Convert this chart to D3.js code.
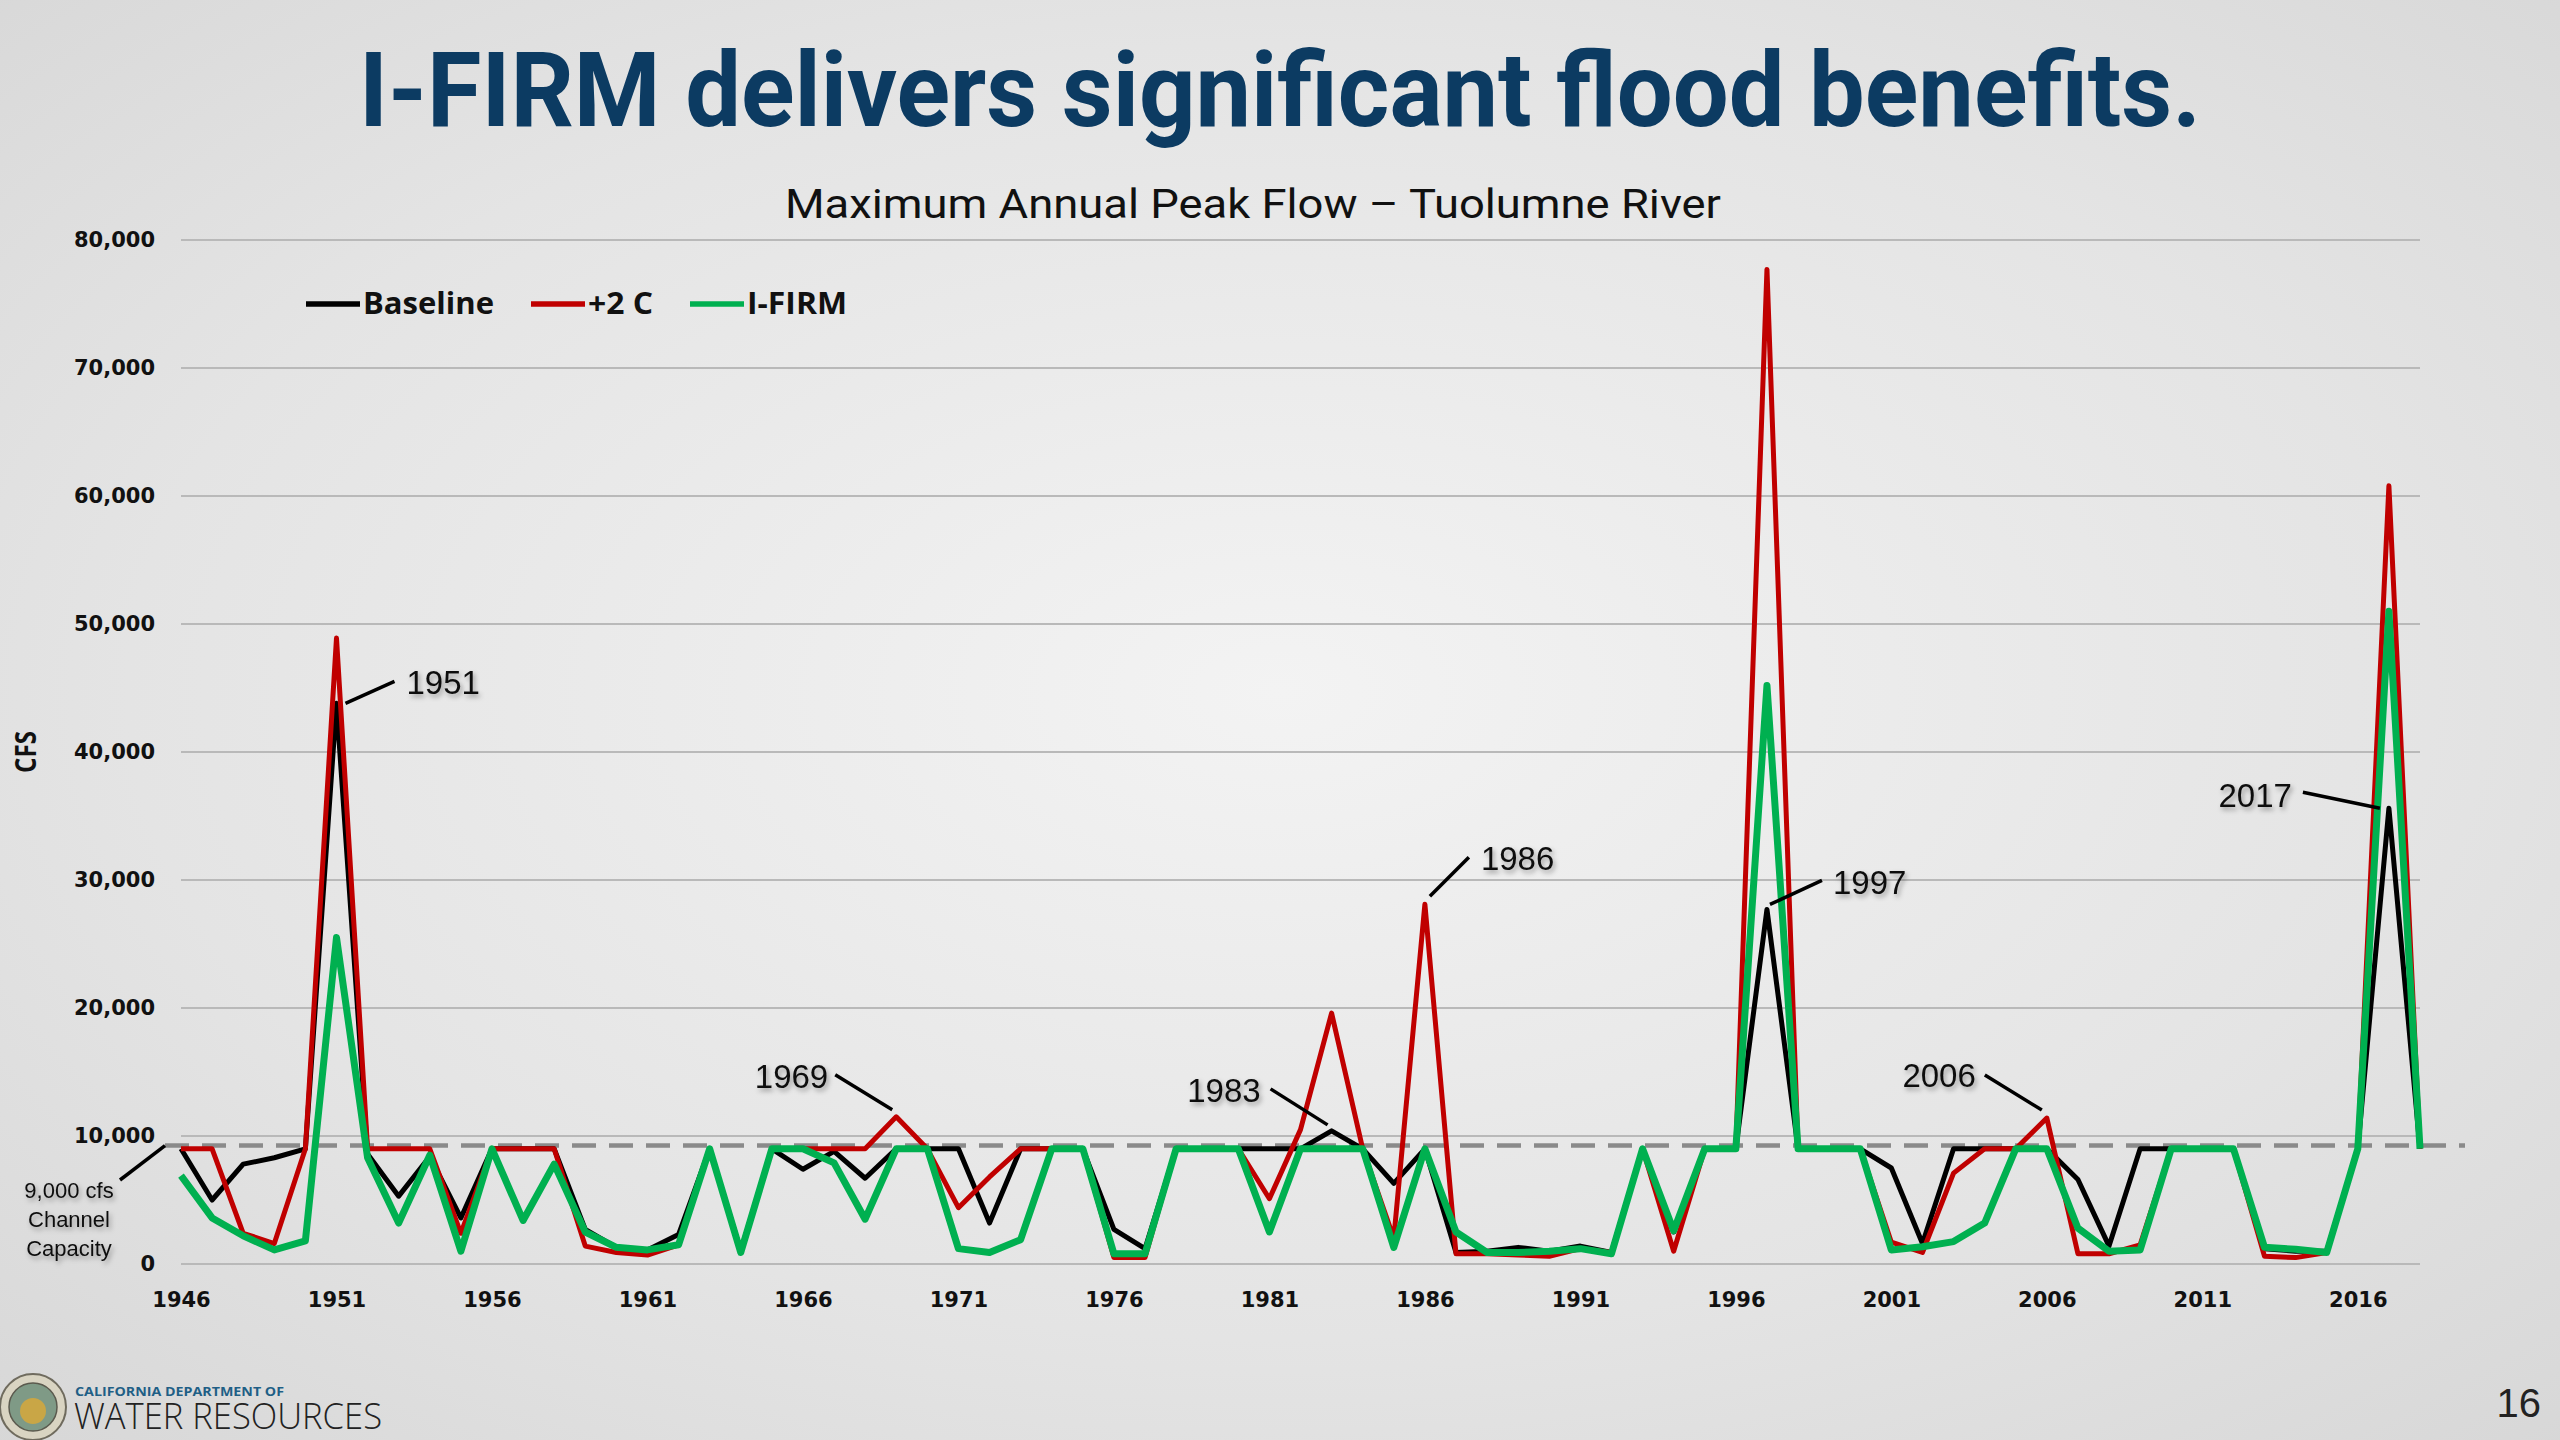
<!DOCTYPE html>
<html>
<head>
<meta charset="utf-8">
<script src="https://cdn.jsdelivr.net/npm/d3@7"></script>
<style>
  html, body { margin: 0; padding: 0; background: #e2e2e2; }
  svg { display: block; }
</style>
</head>
<body>
<svg id="chart" width="2560" height="1440"></svg>
<script>
// years on the x axis
var years = d3.range(1946, 2019);

// peak flow in cfs, one value per year 1946-2018
var baseline = [
  9000, 5000, 7800, 8300, 9000, 43800, 8600, 5300, 8400, 3600,
  9000, 9000, 9000, 2700, 1300, 1100, 2300, 9000, 1000, 9000,
  7400, 8800, 6700, 9000, 9000, 9000, 3200, 9000, 9000, 9000,
  2700, 1200, 9000, 9000, 9000, 9000, 9000, 10400, 9000, 6300,
  9000, 900, 1000, 1300, 1000, 1400, 900, 9000, 2500, 9000,
  9000, 27700, 9000, 9000, 9000, 7500, 1600, 9000, 9000, 9000,
  9000, 6600, 1400, 9000, 9000, 9000, 9000, 1200, 1000, 1000,
  9000, 35600, 9000
];
var plus2C = [
  9000, 9000, 2400, 1600, 9000, 48900, 9000, 9000, 9000, 2400,
  9000, 9000, 9000, 1400, 900, 700, 1500, 9000, 1000, 9000,
  9000, 9000, 9000, 11500, 9000, 4400, 6800, 9000, 9000, 9000,
  500, 500, 9000, 9000, 9000, 5100, 10500, 19600, 9000, 2000,
  28100, 800, 800, 700, 600, 1200, 900, 9000, 1000, 9000,
  9000, 77700, 9000, 9000, 9000, 1700, 900, 7100, 9000, 9000,
  11400, 800, 800, 1500, 9000, 9000, 9000, 600, 500, 900,
  9000, 60800, 9000
];
var ifirm = [
  6900, 3600, 2200, 1100, 1800, 25500, 8300, 3200, 8500, 1000,
  9000, 3400, 7800, 2500, 1300, 1100, 1500, 9000, 900, 9000,
  9000, 7900, 3500, 9000, 9000, 1200, 900, 1900, 9000, 9000,
  800, 800, 9000, 9000, 9000, 2500, 9000, 9000, 9000, 1300,
  9000, 2500, 900, 900, 1000, 1200, 800, 9000, 2600, 9000,
  9000, 45200, 9000, 9000, 9000, 1100, 1350, 1750, 3200, 9000,
  9000, 2800, 1000, 1100, 9000, 9000, 9000, 1300, 1150, 900,
  9000, 51000, 9000
];

var seriesNames = ["Baseline", "+2 C", "I-FIRM"];
var seriesColors = ["#000000", "#c00000", "#00b050"];
var yTicks = [0, 10000, 20000, 30000, 40000, 50000, 60000, 70000, 80000];
var xTicks = [1946, 1951, 1956, 1961, 1966, 1971, 1976, 1981, 1986, 1991, 1996, 2001, 2006, 2011, 2016];
var channelCapacity = 9250; // dashed reference line as drawn
var callouts = ["1951", "1969", "1983", "1986", "1997", "2006", "2017"];
var calloutSeries = [0, 1, 0, 1, 0, 1, 0];

var svg = d3.select("#chart");
var defs = svg.append("defs");

var bg = defs.append("radialGradient").attr("id", "bg")
  .attr("cx", "50%").attr("cy", "48%").attr("r", "75%");
bg.append("stop").attr("offset", "0%").attr("stop-color", "#f3f3f3");
bg.append("stop").attr("offset", "60%").attr("stop-color", "#e4e4e4");
bg.append("stop").attr("offset", "100%").attr("stop-color", "#d6d6d6");

var sh = defs.append("filter").attr("id", "shadow")
  .attr("x", "-20%").attr("y", "-30%").attr("width", "150%").attr("height", "170%");
sh.append("feDropShadow").attr("dx", 2).attr("dy", 3).attr("stdDeviation", 2.5)
  .attr("flood-color", "#000").attr("flood-opacity", 0.35);

svg.append("rect").attr("width", 2560).attr("height", 1440).attr("fill", "url(#bg)");

// title
svg.append("text")
  .attr("x", 1280).attr("y", 126)
  .attr("text-anchor", "middle")
  .attr("textLength", 1842).attr("lengthAdjust", "spacingAndGlyphs")
  .style("font-family", "Roboto, 'Open Sans', sans-serif")
  .style("font-weight", 700).style("font-size", "104px")
  .style("fill", "#0c3b62")
  .text("I-FIRM delivers significant flood benefits.");

svg.append("text")
  .attr("x", 1253).attr("y", 218)
  .attr("text-anchor", "middle")
  .attr("textLength", 936).attr("lengthAdjust", "spacingAndGlyphs")
  .style("font-family", "Roboto, 'Open Sans', sans-serif")
  .style("font-size", "40px").style("fill", "#111")
  .text("Maximum Annual Peak Flow \u2013 Tuolumne River");

var x = d3.scaleLinear().domain([1946, 2018]).range([181, 2420]);
var y = d3.scaleLinear().domain([0, 80000]).range([1264, 240]);

// gridlines
svg.append("g").selectAll("line")
  .data(yTicks).enter().append("line")
  .attr("x1", x(1946)).attr("x2", x(2018))
  .attr("y1", function(d){ return y(d); })
  .attr("y2", function(d){ return y(d); })
  .attr("stroke", "#b9b9b9").attr("stroke-width", 2.2);

// y axis labels
var yAxis = svg.append("g").attr("transform", "translate(" + x(1946) + ",0)")
  .call(d3.axisLeft(y).tickValues(yTicks).tickFormat(d3.format(",")).tickSize(0).tickPadding(26));
yAxis.select(".domain").remove();
yAxis.selectAll("text")
  .style("font-family", "'DejaVu Sans', Verdana, sans-serif")
  .style("font-weight", "bold").style("font-size", "21px").style("fill", "#111");

// x axis labels
var xAxis = svg.append("g").attr("transform", "translate(0," + y(0) + ")")
  .call(d3.axisBottom(x).tickValues(xTicks).tickFormat(function(d){ return d; }).tickSize(0).tickPadding(28));
xAxis.select(".domain").remove();
xAxis.selectAll("text")
  .style("font-family", "'DejaVu Sans', Verdana, sans-serif")
  .style("font-weight", "bold").style("font-size", "21px").style("fill", "#111");

svg.append("text")
  .attr("transform", "translate(36," + y(40000) + ") rotate(-90)")
  .attr("text-anchor", "middle")
  .attr("textLength", 42).attr("lengthAdjust", "spacingAndGlyphs")
  .style("font-family", "'Open Sans', Roboto, sans-serif")
  .style("font-weight", 700).style("font-size", "28px").style("fill", "#111")
  .text("CFS");

// channel capacity dashed line
svg.append("line")
  .attr("x1", 165).attr("x2", 2465)
  .attr("y1", y(channelCapacity)).attr("y2", y(channelCapacity))
  .attr("stroke", "#8a8a8a").attr("stroke-width", 4.5)
  .attr("stroke-dasharray", "24,13");

svg.append("line")
  .attr("x1", 120).attr("y1", 1180).attr("x2", 165).attr("y2", y(channelCapacity))
  .attr("stroke", "#000").attr("stroke-width", 3.5);

var cap = svg.append("text")
  .attr("text-anchor", "middle")
  .attr("filter", "url(#shadow)")
  .style("font-family", "'Liberation Sans', Arial, sans-serif")
  .style("font-size", "22px").style("fill", "#111");
["9,000 cfs", "Channel", "Capacity"].forEach(function(t, i){
  cap.append("tspan").attr("x", 69).attr("y", 1198 + i * 29).text(t);
});

// series lines
var allSeries = [baseline, plus2C, ifirm];
var widths = [5, 5, 7];
var line = d3.line()
  .x(function(d, i){ return x(years[i]); })
  .y(function(d){ return y(d); });

svg.append("g").selectAll("path")
  .data(allSeries).enter().append("path")
  .attr("d", line)
  .attr("fill", "none")
  .attr("stroke", function(d, i){ return seriesColors[i]; })
  .attr("stroke-width", function(d, i){ return widths[i]; })
  .attr("stroke-linejoin", "round");

// legend
var legendX = [306, 531, 690];
var legendTextW = [131, 65, 100];
var leg = svg.append("g").selectAll("g")
  .data(seriesNames).enter().append("g");
leg.append("line")
  .attr("x1", function(d, i){ return legendX[i]; })
  .attr("x2", function(d, i){ return legendX[i] + 54; })
  .attr("y1", 304).attr("y2", 304)
  .attr("stroke", function(d, i){ return seriesColors[i]; })
  .attr("stroke-width", 5.5);
leg.append("text")
  .attr("x", function(d, i){ return legendX[i] + 57; })
  .attr("y", 314)
  .attr("textLength", function(d, i){ return legendTextW[i]; })
  .attr("lengthAdjust", "spacingAndGlyphs")
  .style("font-family", "'Open Sans', Roboto, sans-serif")
  .style("font-weight", 700).style("font-size", "30px").style("fill", "#111")
  .text(function(d){ return d; });

// callouts: leader start, leader end, text anchor offsets from the data point
var calloutLayout = {
  "1951": { s: [9, 0],  e: [58, -22],  t: [70, -9],   anchor: "start" },
  "1969": { s: [-4, -7], e: [-61, -42], t: [-68, -29], anchor: "end" },
  "1983": { s: [-4, -6], e: [-61, -42], t: [-71, -29], anchor: "end" },
  "1986": { s: [5, -8],  e: [44, -47],  t: [56, -34],  anchor: "start" },
  "1997": { s: [3, -5],  e: [55, -29],  t: [66, -15],  anchor: "start" },
  "2006": { s: [-5, -8], e: [-62, -43], t: [-71, -31], anchor: "end" },
  "2017": { s: [-9, 0],  e: [-86, -16], t: [-97, -1],  anchor: "end" }
};

var co = svg.append("g").selectAll("g")
  .data(callouts).enter().append("g")
  .attr("transform", function(d, i){
    var yr = +d;
    var v = allSeries[calloutSeries[i]][yr - 1946];
    return "translate(" + x(yr) + "," + y(v) + ")";
  });
co.append("line")
  .attr("x1", function(d){ return calloutLayout[d].s[0]; })
  .attr("y1", function(d){ return calloutLayout[d].s[1]; })
  .attr("x2", function(d){ return calloutLayout[d].e[0]; })
  .attr("y2", function(d){ return calloutLayout[d].e[1]; })
  .attr("stroke", "#000").attr("stroke-width", 3.5);
co.append("text")
  .attr("x", function(d){ return calloutLayout[d].t[0]; })
  .attr("y", function(d){ return calloutLayout[d].t[1]; })
  .attr("text-anchor", function(d){ return calloutLayout[d].anchor; })
  .attr("filter", "url(#shadow)")
  .style("font-family", "'Liberation Sans', Arial, sans-serif")
  .style("font-size", "33px").style("fill", "#111")
  .text(function(d){ return d; });

// page number
svg.append("text")
  .attr("x", 2541).attr("y", 1417).attr("text-anchor", "end")
  .style("font-family", "'Liberation Sans', Arial, sans-serif")
  .style("font-size", "40px").style("fill", "#222")
  .text("16");

// logo
var logo = svg.append("g").attr("transform", "translate(33,1407)");
logo.append("circle").attr("r", 33).attr("fill", "#d9d4c2").attr("stroke", "#6f6b5e").attr("stroke-width", 2);
logo.append("circle").attr("r", 24).attr("fill", "#7f9a86").attr("stroke", "#5b5a4e").attr("stroke-width", 1.5);
logo.append("circle").attr("r", 13).attr("cy", 4).attr("fill", "#c9a646");
svg.append("text")
  .attr("x", 75).attr("y", 1396)
  .attr("textLength", 209).attr("lengthAdjust", "spacingAndGlyphs")
  .style("font-family", "'Open Sans', Roboto, sans-serif")
  .style("font-weight", 700).style("font-size", "12px").style("fill", "#1f5f86")
  .text("CALIFORNIA DEPARTMENT OF");
svg.append("text")
  .attr("x", 74).attr("y", 1429)
  .attr("textLength", 308).attr("lengthAdjust", "spacingAndGlyphs")
  .style("font-family", "'Open Sans', Roboto, sans-serif")
  .style("font-weight", 300).style("font-size", "37px").style("fill", "#222")
  .text("WATER RESOURCES");
</script>
</body>
</html>
